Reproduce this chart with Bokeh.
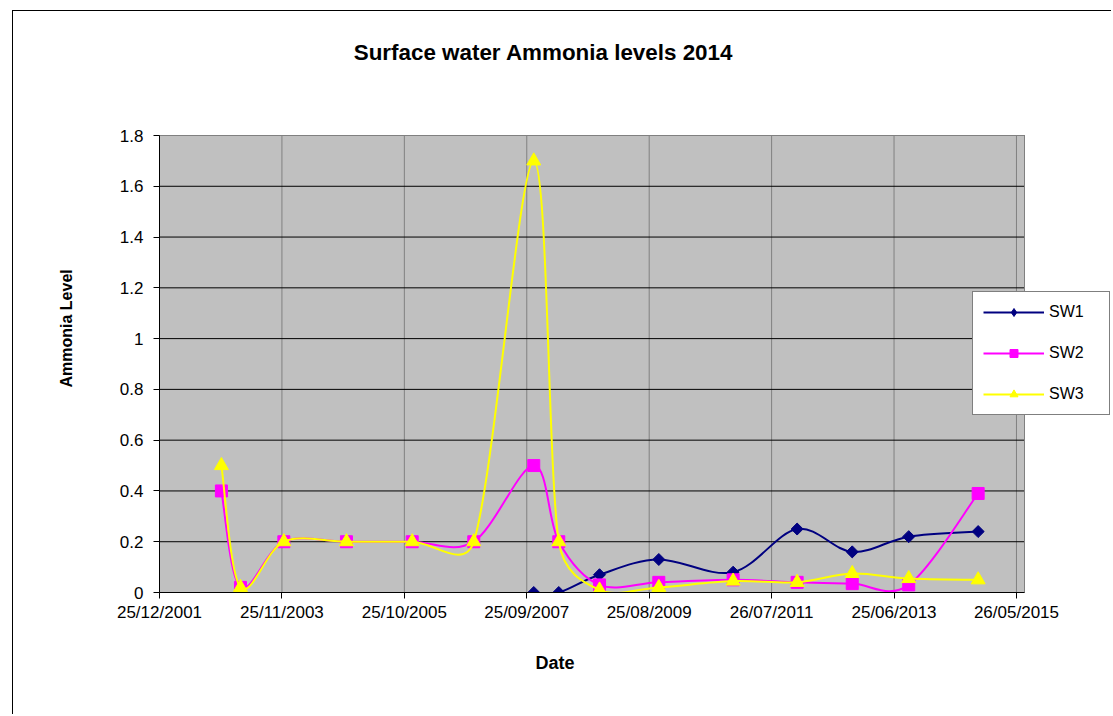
import datetime as dt
import math
from bokeh.plotting import figure
from bokeh.models import (ColumnDataSource, Range1d, FixedTicker, Label, Legend,
                          LegendItem, Title)
from bokeh.embed import file_html
from bokeh.resources import INLINE

# ---------------- data ----------------
sample_dates = ["2002-12-14", "2003-04-02", "2003-12-06", "2004-11-28", "2005-12-09",
                "2006-11-26", "2007-11-04", "2008-03-26", "2008-11-14", "2009-10-19",
                "2010-12-18", "2011-12-19", "2012-10-29", "2013-09-17", "2014-10-19"]
sw1_dates = sample_dates[6:]
sw1 = [0.0, 0.0, 0.07, 0.13, 0.08, 0.25, 0.16, 0.22, 0.24]
sw2 = [0.4, 0.02, 0.2, 0.2, 0.2, 0.2, 0.5, 0.2, 0.03, 0.04, 0.05, 0.04, 0.035, 0.03, 0.39]
sw3 = [0.5, 0.02, 0.2, 0.2, 0.2, 0.2, 1.7, 0.2, 0.01, 0.02, 0.045, 0.04, 0.075, 0.055, 0.05]

x_tick_dates = ["2001-12-25", "2003-11-25", "2005-10-25", "2007-09-25",
                "2009-08-25", "2011-07-26", "2013-06-25", "2015-05-26"]
x_tick_labels = ["25/12/2001", "25/11/2003", "25/10/2005", "25/09/2007",
                 "25/08/2009", "26/07/2011", "25/06/2013", "26/05/2015"]
y_ticks = [0, 0.2, 0.4, 0.6, 0.8, 1.0, 1.2, 1.4, 1.6, 1.8]
y_tick_labels = ["0", "0.2", "0.4", "0.6", "0.8", "1", "1.2", "1.4", "1.6", "1.8"]
x_start, x_end = "2001-12-25", "2015-07-11"
y_start, y_end = 0.0, 1.8
series_names = ["SW1", "SW2", "SW3"]
title_text = "Surface water Ammonia levels 2014"
x_title = "Date"
y_title = "Ammonia Level"

# ---------------- helpers ----------------
EPOCH = dt.datetime(1970, 1, 1)


def ms(s):
    return (dt.datetime.strptime(s, "%Y-%m-%d") - EPOCH).total_seconds() * 1000.0


FONT = "Liberation Sans"
# page geometry (canvas starts at page (13, 11), inside a 1px CSS border)
OX, OY = 13, 11
PLOT_L, PLOT_R, PLOT_T, PLOT_B = 159, 1024, 135, 592   # grey plot area on the page
FRAME_R, FRAME_T = 1110, 16                           # bokeh frame on the page
X0, XG = ms(x_start), ms(x_end)
SX = (PLOT_R - PLOT_L) / (XG - X0)      # px per ms
SY = (PLOT_B - PLOT_T) / (y_end - y_start)  # px per unit
FW = FRAME_R - PLOT_L
FH = PLOT_B - FRAME_T
XF = X0 + FW / SX
YF = y_start + FH / SY


def smooth(xs, ys):
    """Excel-like smoothed line: cubic Bezier segments (Catmull-Rom tangents,
    clamped to half the segment length, measured in pixels)."""
    n = len(xs)
    P = [(x * SX, y * SY) for x, y in zip(xs, ys)]

    def tan(i):
        a = P[max(i - 1, 0)]
        b = P[min(i + 1, n - 1)]
        return ((b[0] - a[0]) / 6.0, (b[1] - a[1]) / 6.0)

    d = {k: [] for k in ["x0", "y0", "x1", "y1", "cx0", "cy0", "cx1", "cy1"]}
    for i in range(n - 1):
        a, b = P[i], P[i + 1]
        seg = math.hypot(b[0] - a[0], b[1] - a[1])
        t0 = tan(i)
        L0 = math.hypot(*t0)
        s0 = min(1.0, seg / 2.0 / L0) if L0 > 0 else 0.0
        t1 = tan(i + 1)
        L1 = math.hypot(*t1)
        s1 = min(1.0, seg / 2.0 / L1) if L1 > 0 else 0.0
        c0 = (a[0] + s0 * t0[0], a[1] + s0 * t0[1])
        c1 = (b[0] - s1 * t1[0], b[1] - s1 * t1[1])
        d["x0"].append(a[0] / SX); d["y0"].append(a[1] / SY)
        d["x1"].append(b[0] / SX); d["y1"].append(b[1] / SY)
        d["cx0"].append(c0[0] / SX); d["cy0"].append(c0[1] / SY)
        d["cx1"].append(c1[0] / SX); d["cy1"].append(c1[1] / SY)
    return ColumnDataSource(d)


# ---------------- figure ----------------
W, H = 1098, 703
p = figure(frame_width=FW, frame_height=FH,
           min_border_left=PLOT_L - OX, min_border_right=W - (PLOT_L - OX) - FW,
           min_border_top=FRAME_T - OY, min_border_bottom=H - (FRAME_T - OY) - FH,
           x_range=Range1d(X0, XF), y_range=Range1d(y_start, YF),
           output_backend="svg", toolbar_location=None)
p.margin = (OY - 1, 0, 0, OX - 1)
p.styles = {"border-left": "1px solid black", "border-top": "1px solid black"}

p.background_fill_color = "white"
p.border_fill_color = "white"
p.outline_line_color = None
p.xgrid.grid_line_color = None
p.ygrid.grid_line_color = None

# grey plot area
bg = p.quad(left=[X0], right=[XG], bottom=[y_start], top=[y_end],
            fill_color="#C0C0C0", line_color=None)
bg.level = "image"

xt = [ms(s) for s in x_tick_dates]

# gridlines (drawn from the tick arrays, limited to the plot area)
vg = p.segment(x0=xt, x1=xt, y0=[y_start] * len(xt), y1=[y_end] * len(xt),
               line_color="#808080", line_width=1)
vg.level = "underlay"
hg = p.segment(x0=[X0] * len(y_ticks), x1=[XG] * len(y_ticks), y0=y_ticks, y1=y_ticks,
               line_color="black", line_width=1)
hg.level = "underlay"
ol = p.quad(left=[X0], right=[XG], bottom=[y_start], top=[y_end],
            fill_color=None, line_color="#808080", line_width=1)
ol.level = "underlay"

p.xaxis.ticker = FixedTicker(ticks=xt)
p.xaxis.major_label_overrides = {t: lab for t, lab in zip(xt, x_tick_labels)}
p.xaxis.bounds = (X0, XG)
p.yaxis.ticker = FixedTicker(ticks=y_ticks)
p.yaxis.major_label_overrides = {t: lab for t, lab in zip(y_ticks, y_tick_labels)}
p.yaxis.bounds = (y_start, y_end)

for ax in (p.xaxis[0], p.yaxis[0]):
    ax.axis_line_color = "black"
    ax.axis_line_width = 1
    ax.major_tick_line_color = "black"
    ax.major_tick_in = 0
    ax.major_tick_out = 6
    ax.minor_tick_line_color = None
    ax.major_label_text_font = FONT
    ax.major_label_text_font_size = "17px"
    ax.major_label_text_color = "black"
p.xaxis.major_label_standoff = 4
p.yaxis.major_label_standoff = 10

# axis titles
p.add_layout(Title(text=x_title, align="left", offset=555 - PLOT_L - 20, standoff=53,
                   text_font=FONT, text_font_size="18px", text_font_style="bold",
                   text_color="black"), "below")
p.add_layout(Title(text=y_title, align="left", offset=PLOT_B - 387, standoff=84,
                   text_font=FONT, text_font_size="16px", text_font_style="bold",
                   text_color="black"), "left")

colors = ["#000080", "#FF00FF", "#FFFF00"]
markers = ["square", "square", "triangle"]
legend_markers = ["diamond", "square", "triangle"]
angles = [math.pi / 4, 0.0, 0.0]
sizes = [8.5, 12, 14]
xs_list = [[ms(s) for s in sw1_dates], [ms(s) for s in sample_dates], [ms(s) for s in sample_dates]]
ys_list = [sw1, sw2, sw3]

items = []
for name, c, m, lm, a, sz, xs, ys in zip(series_names, colors, markers, legend_markers,
                                         angles, sizes, xs_list, ys_list):
    src = smooth(xs, ys)
    ln = p.bezier(x0="x0", y0="y0", x1="x1", y1="y1", cx0="cx0", cy0="cy0",
                  cx1="cx1", cy1="cy1", source=src, line_color=c, line_width=2)
    sc = p.scatter(x=xs, y=ys, marker=m, angle=a, size=sz, fill_color=c, line_color=c)
    key = p.scatter(x=[float("nan")], y=[float("nan")], marker=lm, size=sz,
                    fill_color=c, line_color=c)
    items.append(LegendItem(label=name, renderers=[ln, key]))

legend = Legend(items=items, location=(972 - PLOT_L, PLOT_B - 415))
legend.border_line_color = "black"
legend.border_line_width = 1
legend.background_fill_color = "white"
legend.background_fill_alpha = 1
legend.padding = 10
legend.spacing = 21
legend.margin = 0
legend.glyph_width = 61
legend.glyph_height = 20
legend.label_height = 20
legend.label_width = 50
legend.label_standoff = 5
legend.label_text_font = FONT
legend.label_text_font_size = "16px"
legend.label_text_color = "black"
p.add_layout(legend)

# chart title (screen units relative to the frame's bottom-left corner)
p.add_layout(Label(x=543 - PLOT_L, y=PLOT_B - 52, x_units="screen", y_units="screen",
                   text=title_text, text_font=FONT, text_font_size="22.4px",
                   text_font_style="bold", text_align="center", text_baseline="middle",
                   text_color="black"))

open("out.html", "w").write(file_html(p, INLINE))
